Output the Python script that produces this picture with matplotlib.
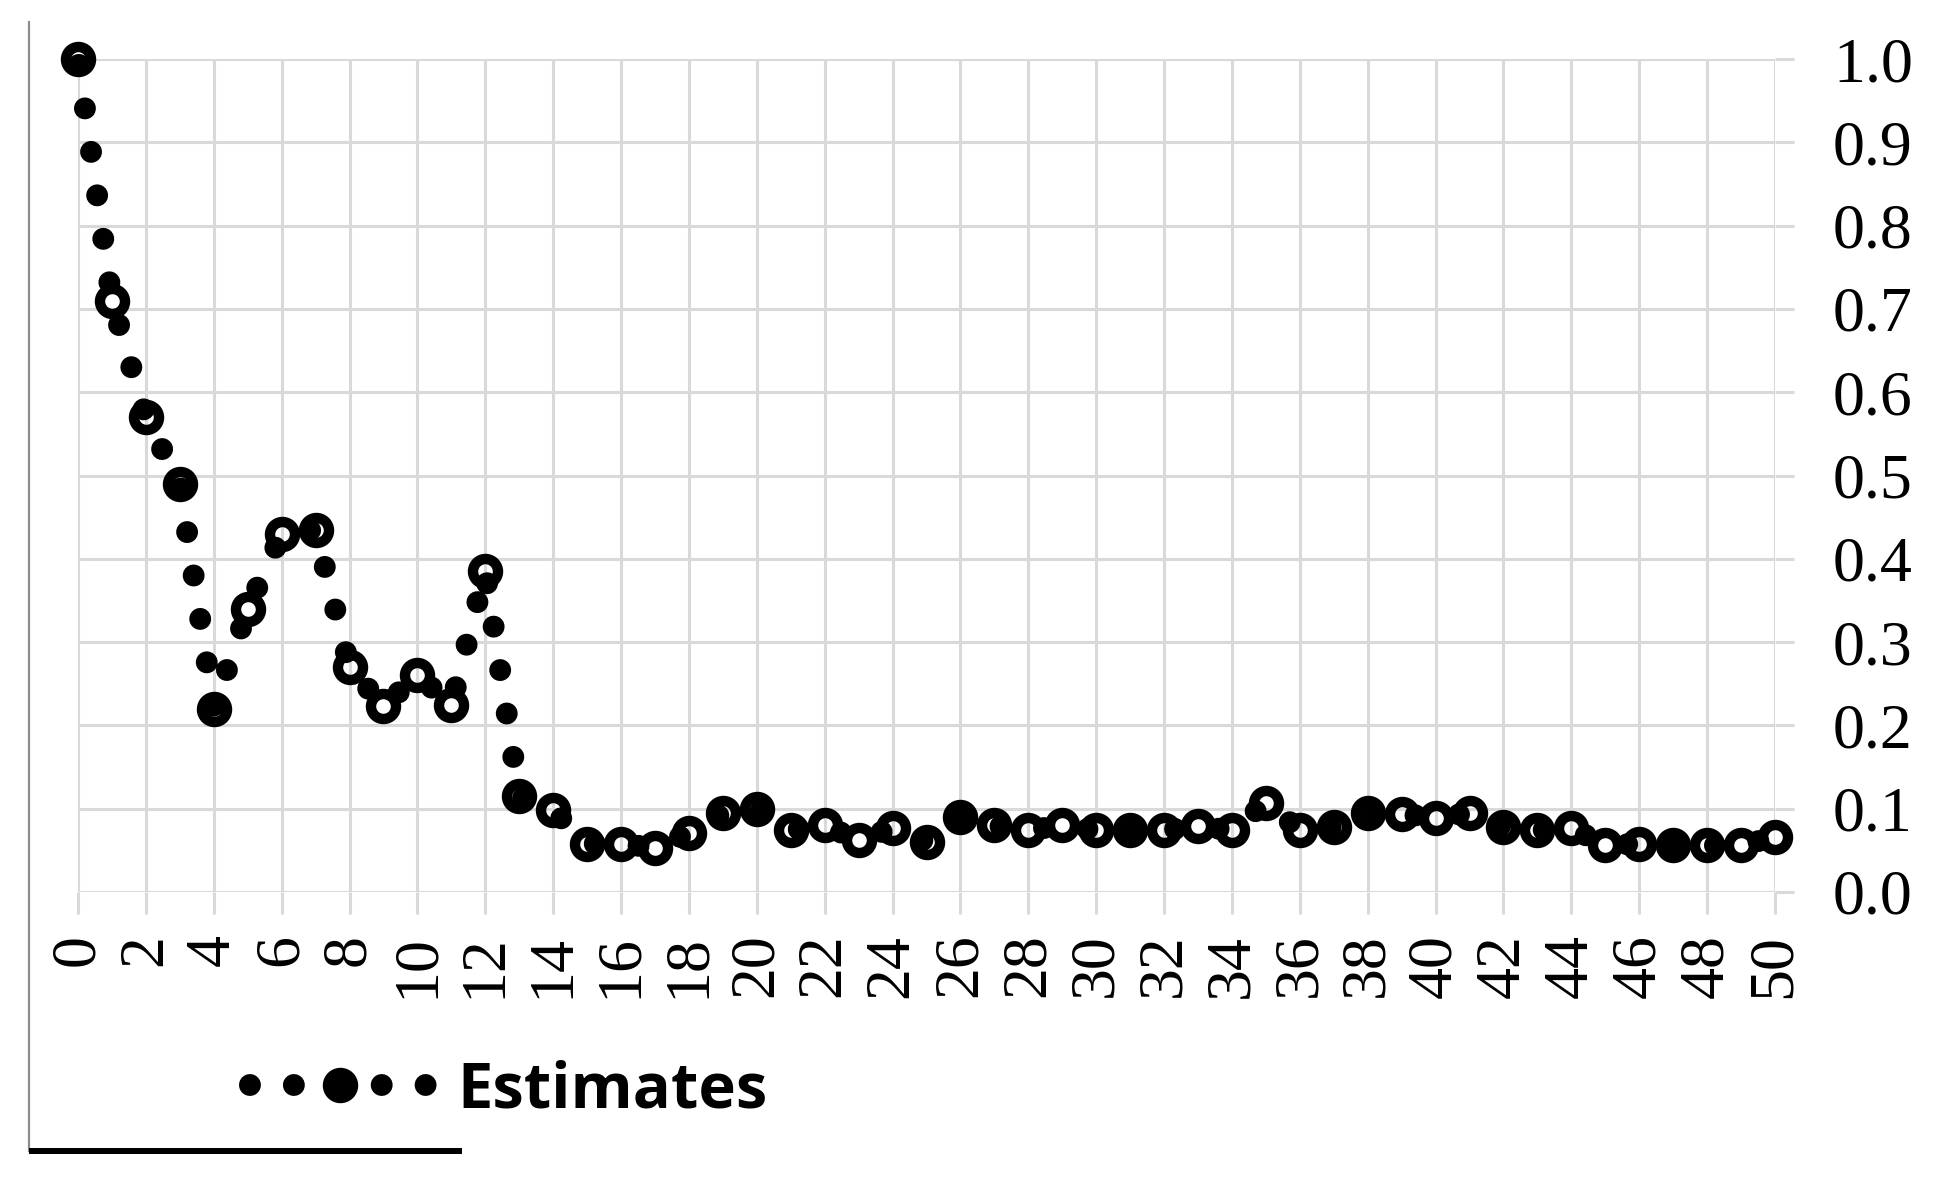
import matplotlib
matplotlib.use("Agg")
import matplotlib.pyplot as plt
from matplotlib.lines import Line2D

# ---- data ----
lags = list(range(51))
estimates = [1.0, 0.71, 0.57, 0.49, 0.22, 0.34, 0.43, 0.435, 0.27, 0.223,
             0.26, 0.225, 0.385, 0.115, 0.098, 0.058, 0.058, 0.053, 0.071, 0.095,
             0.100, 0.074, 0.080, 0.062, 0.077, 0.060, 0.090, 0.080, 0.074, 0.080,
             0.074, 0.075, 0.074, 0.079, 0.074, 0.107, 0.074, 0.078, 0.095, 0.094,
             0.089, 0.095, 0.078, 0.074, 0.077, 0.056, 0.058, 0.056, 0.056, 0.056,
             0.066]
series_name = "Estimates"
x_ticks = list(range(0, 51, 2))
y_ticks = [0.0, 0.1, 0.2, 0.3, 0.4, 0.5, 0.6, 0.7, 0.8, 0.9, 1.0]
y_ticklabels = ["0.0", "0.1", "0.2", "0.3", "0.4", "0.5", "0.6", "0.7", "0.8", "0.9", "1.0"]

W, H = 1938, 1179
DPI = 100
fig = plt.figure(figsize=(W / DPI, H / DPI), dpi=DPI)
fig.patch.set_facecolor("white")

ax = fig.add_axes([78 / W, 1 - 892 / H, (1775 - 78) / W, (892 - 59) / H])
ax.set_xlim(0, 50)
ax.set_ylim(0, 1.0)

grid_c = "#d9d9d9"
ax.set_xticks(x_ticks)
ax.set_yticks(y_ticks)
ax.set_yticklabels(y_ticklabels)
ax.grid(True, color=grid_c, linewidth=2.2, zorder=0)
ax.set_axisbelow(True)
for s in ax.spines.values():
    s.set_visible(False)

ax.yaxis.tick_right()
serif = "Liberation Serif"
ax.tick_params(axis="y", which="major", length=13.7, width=2.2, color=grid_c,
               pad=28, labelsize=46, left=False, right=True)
ax.tick_params(axis="x", which="major", length=16, width=2.2, color=grid_c,
               pad=14, labelsize=46, labelrotation=90)
for lab in ax.get_xticklabels() + ax.get_yticklabels():
    lab.set_fontfamily(serif)
    lab.set_color("black")

line, = ax.plot(lags, estimates, color="black", linewidth=15.8,
                linestyle=(1.73, (0.001, 2.0)), dash_capstyle="round",
                marker="o", markersize=18, markeredgewidth=7.5,
                markerfacecolor="none", markeredgecolor="black",
                clip_on=False, zorder=3, label=series_name)

leg = ax.legend(handles=[line], loc="center left",
                bbox_to_anchor=(244 / W, 1 - 1091 / H),
                bbox_transform=fig.transFigure, frameon=False,
                borderpad=0, borderaxespad=0, handlelength=3.03,
                handletextpad=0.35, numpoints=1,
                prop={"family": "Open Sans", "weight": "bold", "size": 45.5})

# decorative frame remnants
fig.add_artist(Line2D([29 / W, 29 / W], [1 - 22 / H, 1 - 1151 / H],
                      transform=fig.transFigure, color="#8c8c8c", linewidth=1.6))
fig.add_artist(Line2D([29 / W, 462 / W], [1 - 1151 / H, 1 - 1151 / H],
                      transform=fig.transFigure, color="black", linewidth=4.3,
                      solid_capstyle="butt"))

fig.savefig("out.png", dpi=DPI, facecolor="white")
